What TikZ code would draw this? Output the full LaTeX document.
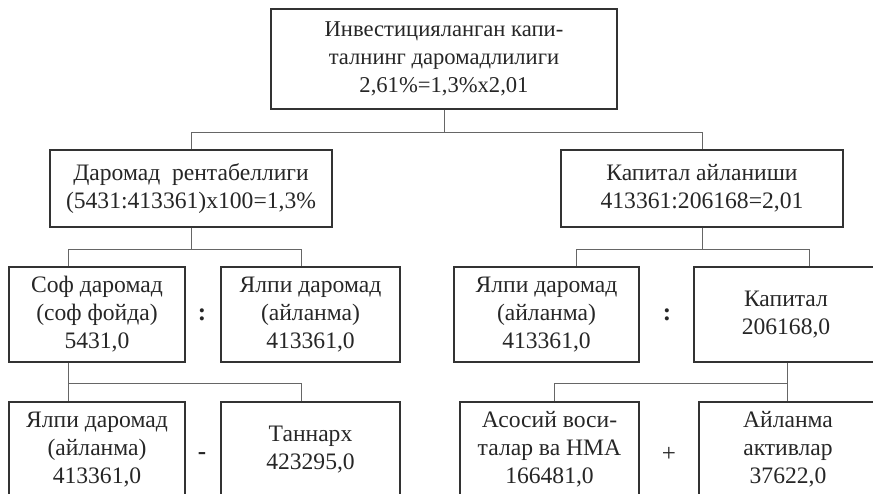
\documentclass[tikz,border=0pt]{standalone}
\usepackage{fontspec}
\setmainfont{Liberation Serif}
\usetikzlibrary{calc}
\begin{document}
\begin{tikzpicture}[x=1pt,y=-1pt,
  box/.style={draw=black!80, line width=1.1pt, align=center, inner sep=0pt,
    font=\fontsize{23.6}{28}\selectfont, text=black!85},
  topbox/.style={box, font=\fontsize{22.6}{28}\selectfont},
  conn/.style={draw=black!60, line width=1pt},
  op/.style={font=\fontsize{25}{28}\selectfont\bfseries, text=black!85, inner sep=0pt}]
\useasboundingbox (0,0) rectangle (873,494);
\clip (0,0) rectangle (873,494);
% level 1
\node[topbox, minimum width=346pt, minimum height=100pt] (top) at (444,59)
  {Инвестицияланган капи-\\талнинг даромадлилиги\\2,61\%=1,3\%x2,01};
% level 2
\node[box, minimum width=282pt, minimum height=77pt] (L2a) at (191,188.5)
  {Даромад\ \ рентабеллиги\\(5431:413361)x100=1,3\%};
\node[box, minimum width=282pt, minimum height=77pt] (L2b) at (702,188.5)
  {Капитал айланиши\\413361:206168=2,01};
% level 3
\node[box, minimum width=176pt, minimum height=95pt] (L3a) at (97,314.5)
  {Соф даромад\\(соф фойда)\\5431,0};
\node[box, minimum width=179pt, minimum height=95pt] (L3b) at (310.5,314.5)
  {Ялпи даромад\\(айланма)\\413361,0};
\node[box, minimum width=185pt, minimum height=95pt] (L3c) at (546.5,314.5)
  {Ялпи даромад\\(айланма)\\413361,0};
\node[box, minimum width=184pt, minimum height=95pt] (L3d) at (786,314.5)
  {Капитал\\206168,0};
% level 4
\node[box, minimum width=176pt, minimum height=95pt] (L4a) at (97,449.5)
  {Ялпи даромад\\(айланма)\\413361,0};
\node[box, minimum width=179pt, minimum height=95pt] (L4b) at (310.5,449.5)
  {Таннарх\\423295,0};
\node[box, minimum width=179pt, minimum height=95pt] (L4c) at (549.5,449.5)
  {Асосий воси-\\талар ва НМА\\166481,0};
\node[box, minimum width=178pt, minimum height=95pt] (L4d) at (788,449.5)
  {Айланма\\активлар\\37622,0};
% operators
\node[op] (o1) at (202,315) {:};
\node[op] (o2) at (202,456) {-};
\node[op] (o3) at (667,315) {:};
\node[op, font=\fontsize{25}{28}\selectfont] (o4) at (669,454) {+};
% connectors
\draw[conn] (top.south) -- ++(0,23) coordinate (j0);
\draw[conn] (L2a.north) |- (j0) -| (L2b.north);
\draw[conn] (L2a.south) -- ++(0,22) coordinate (j1);
\draw[conn] ($(L3a.north west)+(60,0)$) |- (j1) -| ($(L3b.north west)+(81,0)$);
\draw[conn] (L2b.south) -- ++(0,22) coordinate (j2);
\draw[conn] ($(L3c.north west)+(123,0)$) |- (j2) -| ($(L3d.north west)+(116,0)$);
\draw[conn] ($(L3a.south west)+(60,0)$) -- ++(0,21) coordinate (j3);
\draw[conn] (j3) -- ($(L4a.north west)+(60,0)$);
\draw[conn] (j3) -| ($(L4b.north west)+(81,0)$);
\draw[conn] ($(L3d.south west)+(94,0)$) -- ++(0,21) coordinate (j4);
\draw[conn] (j4) -- ($(L4d.north west)+(89,0)$);
\draw[conn] (j4) -| ($(L4c.north west)+(95,0)$);
\end{tikzpicture}
\end{document}
